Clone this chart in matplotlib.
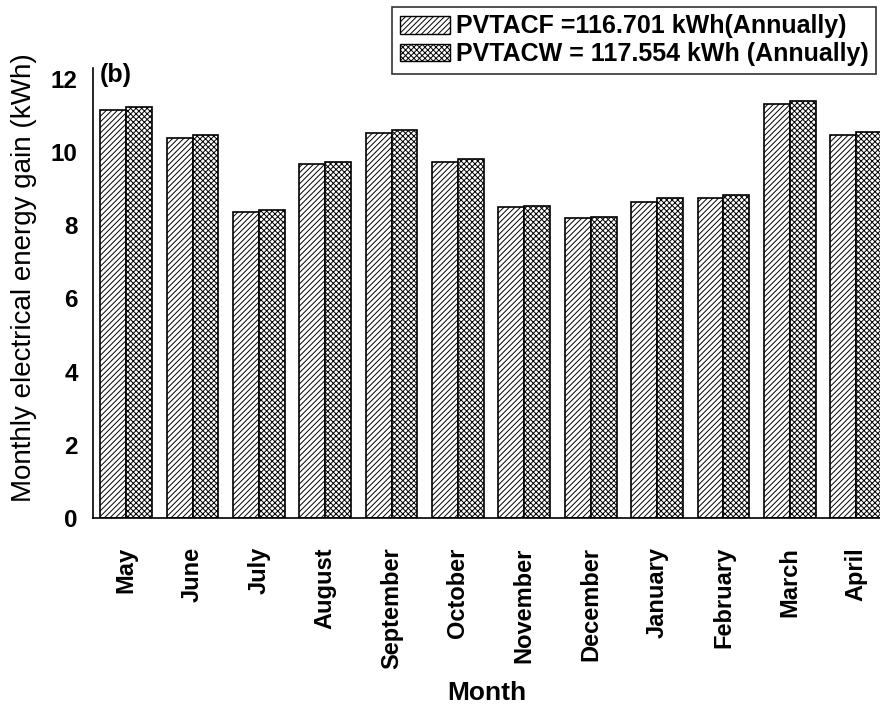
import numpy as np
import matplotlib
import matplotlib.pyplot as plt
from matplotlib.patches import Patch

matplotlib.use('Agg')

# data
months = ['May', 'June', 'July', 'August', 'September', 'October',
          'November', 'December', 'January', 'February', 'March', 'April']
pvtacf = [11.16, 10.39, 8.37, 9.67, 10.51, 9.72, 8.49, 8.20, 8.65, 8.75, 11.31, 10.47]
pvtacw = [11.24, 10.48, 8.42, 9.73, 10.60, 9.80, 8.53, 8.23, 8.74, 8.83, 11.40, 10.56]
label_f = 'PVTACF =116.701 kWh(Annually)'
label_w = 'PVTACW = 117.554 kWh (Annually)'
yticks = [0, 2, 4, 6, 8, 10, 12]

plt.rcParams['font.family'] = ['Liberation Sans', 'DejaVu Sans']
plt.rcParams['hatch.linewidth'] = 0.7

fig = plt.figure(figsize=(8.8, 7.11), dpi=100)
ax = fig.add_axes([93 / 880, 1 - 518 / 711, 1 - 93 / 880, 450 / 711])

x = np.arange(len(months))
w = 0.39
ax.bar(x - w / 2, pvtacf, width=w, color='white', edgecolor='black', linewidth=1.2, hatch='//////')
ax.bar(x + w / 2, pvtacw, width=w, color='white', edgecolor='black', linewidth=1.2, hatch='xxxxxx')

ax.set_xlim(-0.5, 11.36)
ax.set_ylim(0, 12.3)
ax.set_yticks(yticks)
ax.set_yticklabels([str(v) for v in yticks], fontsize=17.5, fontweight='bold')
ax.set_xticks(x)
ax.set_xticklabels(months, rotation=90, fontsize=17, fontweight='bold')
ax.tick_params(axis='y', length=0, pad=11)
ax.tick_params(axis='x', length=0, pad=21)

for s in ['top', 'right']:
    ax.spines[s].set_visible(False)
for s in ['left', 'bottom']:
    ax.spines[s].set_linewidth(1.2)

ax.set_ylabel('Monthly electrical energy gain (kWh)', fontsize=20)
ax.yaxis.set_label_coords(-0.071, 0.535)
ax.set_xlabel('Month', fontsize=19, fontweight='bold', labelpad=9)

fig.text(100 / 880, 1 - 75 / 711, '(b)', fontsize=18, fontweight='bold', va='center')

handles = [Patch(facecolor='white', edgecolor='black', hatch='//////', label=label_f),
           Patch(facecolor='white', edgecolor='black', hatch='xxxxxx', label=label_w)]
leg = fig.legend(handles=handles, loc='upper left', bbox_to_anchor=(392 / 880, 1 - 7 / 711),
                 prop={'size': 18, 'weight': 'bold'}, frameon=True, fancybox=False,
                 handlelength=2.0, handleheight=0.7, handletextpad=0.25, labelspacing=0.15,
                 borderpad=0.3, borderaxespad=0)
leg.get_frame().set_edgecolor('black')
leg.get_frame().set_linewidth(1.2)

fig.savefig('out.png', dpi=100)
